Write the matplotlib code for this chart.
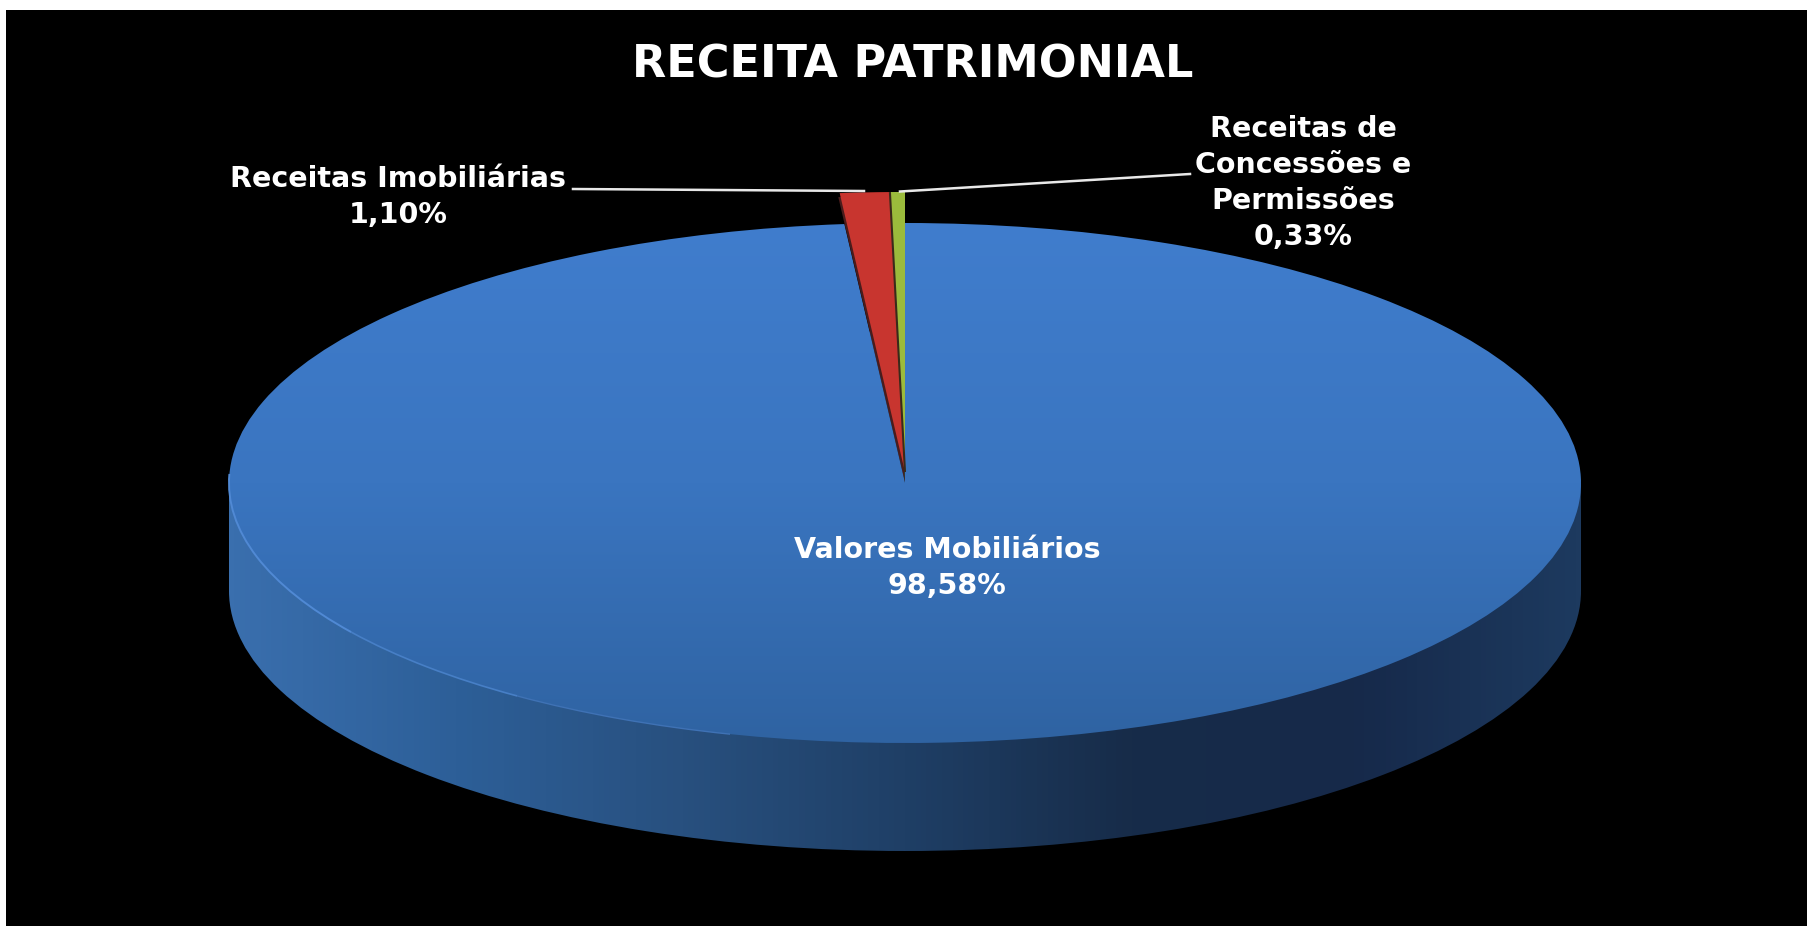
import numpy as np
import matplotlib
matplotlib.use("Agg")
import matplotlib.pyplot as plt
from matplotlib.colors import LinearSegmentedColormap
from matplotlib.patches import Arc, Rectangle

categories = ["Valores Mobiliários", "Receitas Imobiliárias", "Receitas de\nConcessões e\nPermissões"]
values = [98.58, 1.10, 0.33]
title_text = "RECEITA PATRIMONIAL"

W, H = 1808, 926
CX, CY, RX, RY = 905, 483, 676, 260  # ellipse of the top face, in pixels
DEPTH = 108


def fx(px):
    return (px - CX) / RX


def fy(py):
    return (CY - py) / RY


def pct(v):
    return f"{v:.2f}".replace(".", ",") + "%"


plt.rcParams["font.family"] = ["DejaVu Sans"]

fig = plt.figure(figsize=(W / 100, H / 100), dpi=100, facecolor="white")
ax = fig.add_axes([6 / W, 0, (W - 6) / W, (H - 10) / H])
limits = (fx(6), fx(W), fy(H), fy(10))

top_cmap = LinearSegmentedColormap.from_list("top", ["#407dcd", "#3a75c0", "#2f63a2"])
side_cmap = LinearSegmentedColormap.from_list(
    "side", ["#3a6fae", "#2d5f98", "#28507f", "#1f3f66", "#172c49", "#16294a", "#1d3a5f"]
)
grad_y = np.linspace(0, 1, 256).reshape(-1, 1)
grad_x = np.linspace(0, 1, 256).reshape(1, -1)
box = (-1, 1, -1 - DEPTH / RY, 1)

# side wall: lower ellipse plus the band up to the middle of the top face
lower, _ = ax.pie([1], center=(0, -DEPTH / RY), radius=1, colors=["none"])
band = Rectangle((-1, -DEPTH / RY), 2, DEPTH / RY, transform=ax.transData, fc="none", ec="none")
for clip in [lower[0], band]:
    im = ax.imshow(grad_x, cmap=side_cmap, extent=box, aspect="auto", zorder=1)
    im.set_clip_path(clip)

# top face
top_wedges, _ = ax.pie(values, startangle=90, counterclock=False, colors=["none"] * 3)
for w in top_wedges[1:]:
    w.set_visible(False)
im = ax.imshow(grad_y, cmap=top_cmap, extent=(-1, 1, -1, 1), aspect="auto", zorder=2)
im.set_clip_path(top_wedges[0])
# lighter rim, fading towards the front
ax.add_patch(Arc((0, 0), 2, 2, theta1=178, theta2=215, color="#5089d4", lw=1.4, zorder=3))
ax.add_patch(Arc((0, 0), 2, 2, theta1=215, theta2=235, color="#477fc6", lw=1.2, zorder=3))
ax.add_patch(Arc((0, 0), 2, 2, theta1=235, theta2=255, color="#3f72b5", lw=1.0, zorder=3))

# the two small slices stand out above the top face
dark, _ = ax.pie(values, startangle=90, counterclock=False, center=(0, fy(482)), radius=1.1,
                 colors=["none", "#4a1c1c", "#2f4a22"])
small, _ = ax.pie(values, startangle=90, counterclock=False, center=(0, fy(472)), radius=1.077,
                  colors=["none", "#c8352f", "#9bbb3c"])
for w in dark:
    w.set_zorder(4)
for w in small:
    w.set_zorder(5)
edge = np.deg2rad(small[2].theta2)
ax.plot([0, 1.077 * np.cos(edge)], [fy(472), fy(472) + 1.077 * np.sin(edge)],
        color="#3a2a1a", lw=1.5, zorder=6, solid_capstyle="butt")

# leader lines
ax.plot([fx(573), fx(864)], [fy(189), fy(191)], color="#e8e8e8", lw=1.8, zorder=7)
ax.plot([fx(1190), fx(900)], [fy(174), fy(191.5)], color="#e8e8e8", lw=1.8, zorder=7)

label_font = dict(color="white", fontweight="bold", fontsize=20.5, ha="center", va="center",
                  zorder=8, linespacing=1.36)
ax.text(fx(947), fy(568), f"{categories[0]}\n{pct(values[0])}", **label_font)
ax.text(fx(398), fy(197), f"{categories[1]}\n{pct(values[1])}", **label_font)
ax.text(fx(1303), fy(183), f"{categories[2]}\n{pct(values[2])}", **label_font)
ax.text(fx(913), fy(65), title_text, color="white", fontweight="bold", fontsize=32,
        ha="center", va="center", zorder=8)

ax.set_xlim(limits[0], limits[1])
ax.set_ylim(limits[2], limits[3])
ax.set_aspect("auto")
ax.set_frame_on(True)
ax.set_facecolor("black")
for s in ax.spines.values():
    s.set_visible(False)
ax.set_xticks([])
ax.set_yticks([])

fig.savefig("out.png", dpi=100, facecolor="white")
